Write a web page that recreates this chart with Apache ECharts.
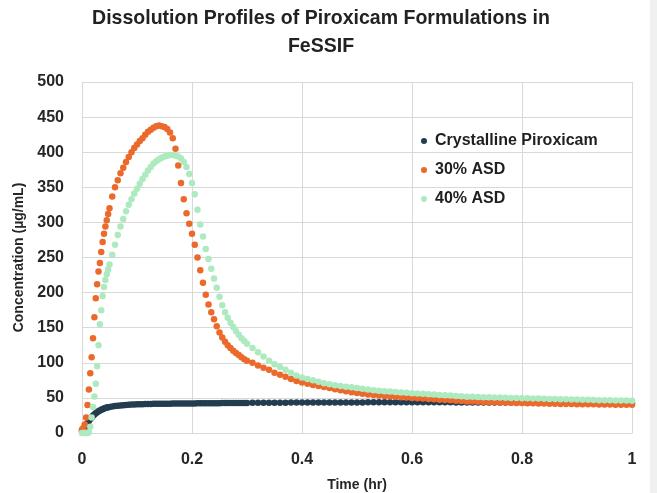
<!DOCTYPE html>
<html>
<head>
<meta charset="utf-8">
<script src="https://cdn.jsdelivr.net/npm/echarts@6/dist/echarts.min.js"></script>
<style>
  html, body { margin: 0; padding: 0; background: #fff; }
  #main { width: 657px; height: 493px; }
</style>
</head>
<body>
<div id="main"></div>
<script>
// sampling grid (hr): [start, end, step] - finer while the curves rise
const timeSteps = [
  [0, 0.05, 0.0025],
  [0.055, 0.3, 0.005],
  [0.31, 1.0, 0.01]
];

const chartTitle = "Dissolution Profiles of Piroxicam Formulations in\nFeSSIF";
const seriesNames = ["Crystalline Piroxicam", "30% ASD", "40% ASD"];
const seriesColors = ["#223c50", "#eb6a2b", "#aeeabf"];

const xTickLabels = ["0", "0.2", "0.4", "0.6", "0.8", "1"];
const yTickLabels = ["0", "50", "100", "150", "200", "250", "300", "350", "400", "450", "500"];

// concentration (ug/mL)
const crystalline = [
  3, 5, 7, 10, 14, 17, 20, 22, 24.5, 26.5, 28, 29.5, 31, 32, 33, 34, 35, 35.7, 36.3, 36.8, 37.2,
  37.8, 38.4, 38.9, 39.3, 39.7, 40, 40.3, 40.5, 40.7, 40.9, 41, 41.1, 41.2, 41.3, 41.4,
  41.5, 41.5, 41.6, 41.7, 41.7, 41.8, 41.8, 41.9, 41.9, 42, 42, 42.1, 42.1, 42.2, 42.2,
  42.2, 42.3, 42.3, 42.3, 42.4, 42.4, 42.4, 42.5, 42.5, 42.5, 42.6, 42.6, 42.6, 42.7, 42.7,
  42.7, 42.8, 42.8, 42.8, 42.9,
  43.0, 43.0, 43.1, 43.1, 43.2, 43.2, 43.2, 43.3, 43.3, 43.3,
  43.4, 43.4, 43.4, 43.5, 43.5, 43.5, 43.5, 43.6, 43.6, 43.6,
  43.6, 43.7, 43.7, 43.7, 43.7, 43.7, 43.8, 43.8, 43.8, 43.8,
  43.8, 43.8, 43.8, 43.7, 43.7, 43.7, 43.7, 43.6, 43.6, 43.6,
  43.5, 43.5, 43.5, 43.4, 43.4, 43.4, 43.3, 43.3, 43.3, 43.2,
  43.2, 43.2, 43.1, 43.1, 43.1, 43.0, 43.0, 43.0, 42.9, 42.9,
  42.9, 42.8, 42.8, 42.8, 42.7, 42.7, 42.7, 42.6, 42.6, 42.6
];

const asd30 = [
  5, 7, 12, 22, 40, 62, 85, 108, 135, 165, 192, 212, 230, 242, 258, 272, 284, 294, 303, 312, 320,
  337, 350, 360, 370, 378, 386, 393, 400, 406, 411, 416, 420, 425, 429, 432,
  435, 437, 438, 437, 436, 433, 428, 420, 405, 381, 356, 333, 313, 298, 284,
  268, 250, 232, 214, 197, 183, 172, 162, 152, 143, 136, 130, 125, 121, 117,
  114, 111, 108, 105, 103,
  100, 96, 93, 90, 86, 83, 80, 77, 74, 72,
  70, 68.5, 67, 65.5, 64, 62.5, 61, 59.5, 58, 57,
  56, 55, 54, 53.3, 52.6, 52, 51.5, 51, 50.5, 50,
  49.5, 49, 48.5, 48, 47.5, 47, 46.5, 46, 45.5, 45,
  44.7, 44.4, 44.1, 43.9, 43.7, 43.5, 43.3, 43.1, 42.9, 42.7,
  42.5, 42.3, 42.1, 41.9, 41.7, 41.5, 41.4, 41.3, 41.2, 41.1,
  41, 40.9, 40.8, 40.7, 40.6, 40.5, 40.4, 40.3, 40.2, 40.1
];

const asd40 = [
  0, 0, 0, 0, 0, 1, 9, 22, 37, 52, 70, 95, 125, 155, 175, 195, 208, 218, 226, 233, 240,
  254, 268, 282, 294, 305, 316, 325, 333, 341, 348, 355, 362, 368, 374, 379,
  384, 387, 390, 392, 394, 395, 396, 396, 395, 394, 391, 386, 379, 369, 356,
  340, 318, 297, 280, 262, 248, 234, 220, 207, 194, 182, 172, 164, 157, 151,
  145, 140, 135, 131, 127,
  121, 115, 109, 103, 98, 94, 90, 86, 82, 79,
  77, 75, 73, 71, 69.5, 68, 67, 66, 65, 64,
  63, 62, 61, 60.3, 59.6, 59, 58.4, 57.8, 57.3, 56.8,
  56.3, 55.8, 55.3, 54.8, 54.3, 53.8, 53.3, 52.8, 52.3, 51.8,
  51.5, 51.2, 51, 50.8, 50.6, 50.4, 50.2, 50, 49.8, 49.6,
  49.4, 49.2, 49, 48.8, 48.6, 48.4, 48.2, 48, 47.8, 47.6,
  47.4, 47.2, 47.0, 46.8, 46.6, 46.5, 46.4, 46.3, 46.2, 46.1
];

const times = [];
timeSteps.forEach(([a, b, s]) => {
  const n = Math.round((b - a) / s);
  for (let i = 0; i <= n; i++) times.push(+(a + i * s).toFixed(4));
});

const pairs = vals => vals.map((v, i) => [times[i], v]);
const allValues = [crystalline, asd30, asd40];

const labelFont = { fontFamily: "Liberation Sans", fontWeight: "bold", color: "#262626" };

const chart = echarts.init(document.getElementById("main"));
chart.setOption({
  backgroundColor: "#fff",
  animation: false,
  legend: {
    orient: "vertical",
    left: 421,
    top: 133,
    padding: 0,
    itemGap: 13,
    itemWidth: 12,
    itemHeight: 6,
    icon: "circle",
    data: seriesNames,
    textStyle: { fontFamily: "Liberation Sans", fontWeight: "bold", fontSize: 16, lineHeight: 16, color: "#1f1f1f" }
  },
  grid: { left: 82, right: 25, top: 82, bottom: 60, containLabel: false, outerBoundsMode: "none" },
  xAxis: {
    type: "value",
    min: 0,
    max: 1,
    interval: 0.2,
    name: "Time (hr)",
    nameLocation: "middle",
    nameGap: 45,
    nameTextStyle: Object.assign({ fontSize: 14 }, labelFont),
    axisLine: { show: true, lineStyle: { color: "#d9d9d9" } },
    axisTick: { show: false },
    splitLine: { show: true, lineStyle: { color: "#d9d9d9" } },
    axisLabel: Object.assign({
      fontSize: 16,
      margin: 19,
      formatter: v => xTickLabels[Math.round(v / 0.2)]
    }, labelFont)
  },
  yAxis: {
    type: "value",
    min: 0,
    max: 500,
    interval: 50,
    name: "Concentration (\u00b5g/mL)",
    nameLocation: "middle",
    nameGap: 40,
    nameTextStyle: Object.assign({ fontSize: 14 }, labelFont),
    axisLine: { show: true, lineStyle: { color: "#d9d9d9" } },
    axisTick: { show: false },
    splitLine: { show: true, lineStyle: { color: "#d9d9d9" } },
    axisLabel: Object.assign({
      fontSize: 16,
      margin: 18,
      formatter: v => yTickLabels[Math.round(v / 50)]
    }, labelFont)
  },
  graphic: [
    { type: "rect", right: 0, top: 0, shape: { width: 7, height: 493 }, style: { fill: "#eff0f0" } },
    {
      // title drawn as text so it can be narrowed like the condensed font
      type: "text",
      x: 321,
      y: 4,
      scaleX: 0.93,
      style: {
        text: chartTitle,
        fontFamily: "Liberation Sans",
        fontWeight: "bold",
        fontSize: 21,
        lineHeight: 28,
        align: "center",
        verticalAlign: "top",
        fill: "#222"
      }
    }
  ],
  series: seriesNames.map((name, k) => ({
    name: name,
    type: "scatter",
    symbol: "circle",
    symbolSize: 6.5,
    itemStyle: { color: seriesColors[k], opacity: 1 },
    data: pairs(allValues[k])
  }))
});
</script>
</body>
</html>
